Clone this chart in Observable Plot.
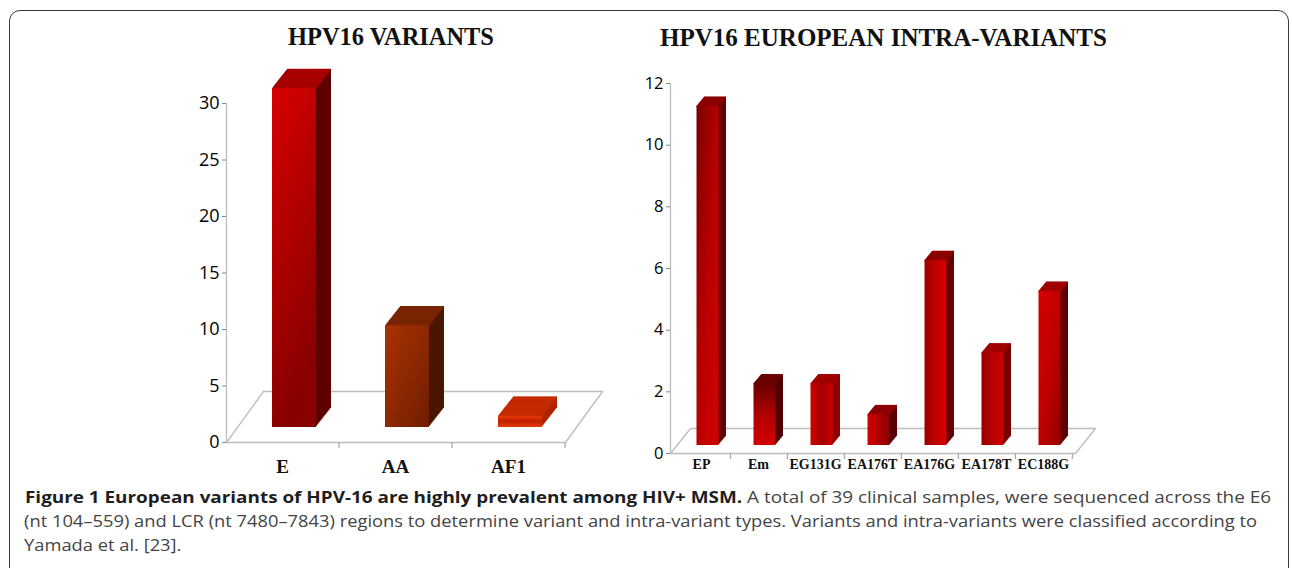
<!DOCTYPE html>
<html><head><meta charset="utf-8">
<script src="https://cdn.jsdelivr.net/npm/d3@7"></script>
<script src="https://cdn.jsdelivr.net/npm/@observablehq/plot@0.6"></script>
<style>
html,body{margin:0;padding:0;background:#fff;width:1292px;height:568px;overflow:hidden;position:relative}
#box{position:absolute;left:9px;top:10px;width:1280px;height:640px;border:1.5px solid #3a3a3a;border-radius:11px;box-sizing:border-box}
.title{position:absolute;font-family:"Liberation Serif","Times New Roman",serif;font-weight:bold;color:#111;white-space:nowrap;transform:translate(-50%,-50%);line-height:1}
#left{position:absolute;left:0;top:0}
#right{position:absolute;left:620px;top:0}
.seg{position:absolute;display:inline-block;font-family:"Open Sans",sans-serif;font-size:16px;line-height:24px;color:#444;white-space:nowrap;transform-origin:0 0}
.seg b{color:#1e1e1e}
</style></head><body>
<div id="box"></div>
<div class="title" style="left:391px;top:37px;font-size:24.4px">HPV16 VARIANTS</div>
<div class="title" style="left:883.5px;top:37px;font-size:25px">HPV16 EUROPEAN INTRA-VARIANTS</div>
<div id="left"></div><div id="right"></div>
<span class="seg" id="s1"><b>Figure 1 European variants of HPV-16 are highly prevalent among HIV+ MSM.</b> A total of 39 clinical samples, were sequenced across the E6</span>
<span class="seg" id="s2">(nt 104–559) and LCR (nt 7480–7843) regions to determine variant and intra-variant types. Variants and intra-variants were classified according to</span>
<span class="seg" id="s3">Yamada et al. [23].</span>
<script>
// ---- data ----
const variants = ["E", "AA", "AF1"];
const variantCounts = [30, 9, 1];
const variantTicks = [0, 5, 10, 15, 20, 25, 30];

const intraVariants = ["EP", "Em", "EG131G", "EA176T", "EA176G", "EA178T", "EC188G"];
const intraCounts = [11, 2, 2, 1, 6, 3, 5];
const intraTicks = [0, 2, 4, 6, 8, 10, 12];

// ---- styles (gradient: [x1,y1,x2,y2, stops...]) ----
const variantFront = [
  ["0","0","0.3","1", "#d80000", "#b00000", "#880000"],
  ["0","0","1","1", "#a83200", "#8e2800", "#6e1e00"],
  ["0","0","0","1", "#e83a08", "#c02000", "#e83a08"]
];
const variantTop = ["#a80000", "#7a2400", "#c42a00"];
const variantSide = ["#5e0000", "#4a1600", "#b02200"];

const intraFront = [
  ["0","0","1","1", "#7a0000", "#b80000", "#d40000"],
  ["0","0","0","1", "#680000", "#b00000", "#d40000"],
  ["0","0","1","0", "#d00000", "#a20000", "#d00000"],
  ["0","0","1","0", "#d40000", "#b00000", "#8a0000"],
  ["0","0","1","0", "#9c0000", "#c00000", "#d40000"],
  ["0","0","1","0", "#960000", "#b80000", "#cc0000"],
  ["0","0","1","1", "#d40000", "#c00000", "#960000"]
];
const intraTop = ["#8e0000", "#6a0000", "#a00000", "#8e0000", "#8e0000", "#a00000", "#a00000"];
const intraSide = ["#6a0000", "#500000", "#900000", "#5a0000", "#640000", "#760000", "#600000"];

function makeChart(cfg) {
  const {id, cats, vals, ticks, front, top, side, width, height, mL, mR, mT, mB,
         padIn, barDx, barDy, depthX, depthY, floorDx, floorDy,
         yFont, xFont, xPad, steps} = cfg;
  const rows = cats.map((c, i) => ({cat: c, val: vals[i], i}));
  const frameW = width - mL - mR;
  const step = frameW / cats.length;
  const floorLen = Math.hypot(floorDx, floorDy);
  const floorRot = Math.atan2(floorDx, -floorDy) * 180 / Math.PI;
  const lineShape = {draw(ctx, l) { ctx.moveTo(0, 0); ctx.lineTo(0, -l); }};
  const gray = "#bdbdbd";

  const marks = [
    Plot.ruleY([0], {dx: floorDx, dy: floorDy, stroke: gray, strokeWidth: 1.3}),
    Plot.vector([0], {y: d => d, frameAnchor: "left", length: floorLen, rotate: floorRot, anchor: "start", shape: lineShape, stroke: gray, fill: "none", strokeWidth: 1.3}),
    Plot.vector([0], {y: d => d, frameAnchor: "right", length: floorLen, rotate: floorRot, anchor: "start", shape: lineShape, stroke: gray, fill: "none", strokeWidth: 1.3}),
    Plot.ruleY([0], {stroke: gray, strokeWidth: 1.3}),
    Plot.ruleX([0], {x: null, y1: 0, y2: ticks[ticks.length - 1], dx: -frameW / 2, stroke: gray, strokeWidth: 1.3}),
    Plot.ruleX(cats, {x: d => d, y1: 0, y2: 0, dx: step / 2, insetBottom: -6, stroke: "#aaa", strokeWidth: 1.3}),
    Plot.axisY({ticks, tickSize: 4, tickPadding: 3, fontSize: yFont, fontFamily: "Open Sans, sans-serif", fill: "#000", stroke: "#888", label: null, tickFormat: d => d}),
    Plot.axisX({tickSize: 0, tickPadding: xPad, fontSize: xFont, fontFamily: "Liberation Serif, serif", fontWeight: "bold", fill: "#111", label: null})
  ];
  rows.forEach(r => {
    for (let k = steps; k >= 1; k--) {
      marks.push(Plot.barY([r], {x: "cat", y: "val", fill: side[r.i], dx: barDx + depthX * k / steps, dy: barDy - depthY * k / steps}));
    }
    for (let k = 0; k <= steps; k++) {
      marks.push(Plot.tickY([r], {x: "cat", y: "val", stroke: top[r.i], strokeWidth: 1.6, dx: barDx + depthX * k / steps, dy: barDy - depthY * k / steps}));
    }
    marks.push(Plot.barY([r], {x: "cat", y: "val", fill: `url(#${id}-g${r.i})`, dx: barDx, dy: barDy}));
  });

  const svg = Plot.plot({
    width, height, marginLeft: mL, marginRight: mR, marginTop: mT, marginBottom: mB,
    style: {background: "transparent", overflow: "visible"},
    x: {domain: cats, paddingInner: padIn, paddingOuter: padIn / 2, axis: null},
    y: {domain: [0, ticks[ticks.length - 1]], axis: null},
    marks
  });
  const defs = front.map((g, i) => {
    const [x1, y1, x2, y2, ...stops] = g;
    const st = stops.map((c, j) => `<stop offset="${j / (stops.length - 1)}" stop-color="${c}"/>`).join("");
    return `<linearGradient id="${id}-g${i}" x1="${x1}" y1="${y1}" x2="${x2}" y2="${y2}">${st}</linearGradient>`;
  }).join("");
  svg.insertAdjacentHTML("afterbegin", `<defs>${defs}</defs>`);
  svg.style.overflow = "visible";
  document.getElementById(id).appendChild(svg);
}

makeChart({
  id: "left", cats: variants, vals: variantCounts, ticks: variantTicks,
  front: variantFront, top: variantTop, side: variantSide,
  width: 620, height: 480, mL: 226, mR: 55, mT: 103, mB: 38,
  padIn: 0.61, barDx: 12, barDy: -15, depthX: 15, depthY: 19,
  floorDx: 37, floorDy: -51, yFont: 18, xFont: 19, xPad: 17, steps: 16
});
makeChart({
  id: "right", cats: intraVariants, vals: intraCounts, ticks: intraTicks,
  front: intraFront, top: intraTop, side: intraSide,
  width: 480, height: 480, mL: 50, mR: 25, mT: 83, mB: 27,
  padIn: 0.608, barDx: 6.5, barDy: -8, depthX: 7.5, depthY: 9,
  floorDx: 20, floorDy: -25, yFont: 16.5, xFont: 14, xPad: 6, steps: 10
});

// caption lines: fitted horizontally to the reference line extents
function fitCaption() {
  const fs = 16;
  const off = (24 - 1.362 * fs) / 2 + 1.069 * fs; // baseline offset within line box
  const segs = [
    {id: "s1", x: 24.5, w: 1246, base: 503.3},
    {id: "s2", x: 23.5, w: 1233, base: 527.6},
    {id: "s3", x: 23.5, w: null, base: 551.7}
  ];
  let lastScale = 1;
  segs.forEach(s => {
    const el = document.getElementById(s.id);
    el.style.transform = "none";
    el.style.left = s.x + "px";
    el.style.top = (s.base - off) + "px";
    const w = el.getBoundingClientRect().width;
    const sc = s.w ? s.w / w : lastScale;
    lastScale = sc;
    el.style.transform = `scaleX(${sc})`;
  });
}
fitCaption();
if (document.fonts && document.fonts.ready) document.fonts.ready.then(fitCaption);
</script>
</body></html>
